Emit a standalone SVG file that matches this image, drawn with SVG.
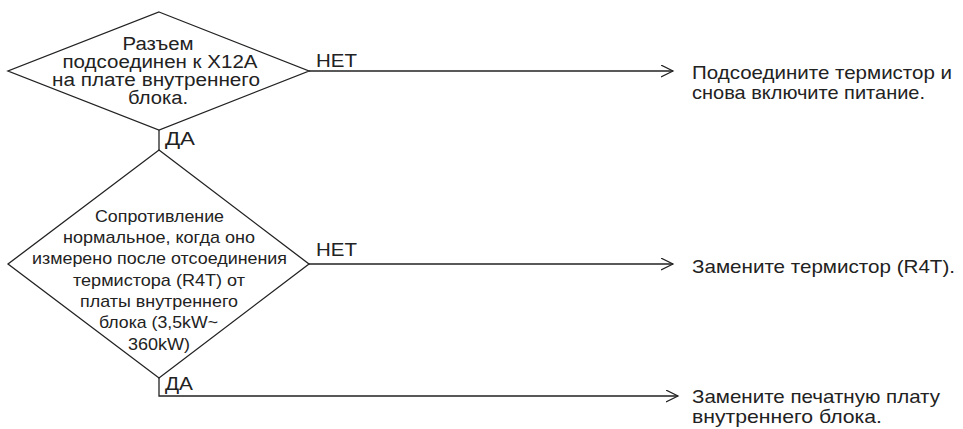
<svg xmlns="http://www.w3.org/2000/svg" width="963" height="429" viewBox="0 0 963 429">
<defs>
<marker id="arr" markerWidth="14" markerHeight="14" refX="12" refY="6" orient="auto" markerUnits="userSpaceOnUse">
<path d="M0,0 L12,6 L0,12" fill="none" stroke="#222" stroke-width="1.2"/>
</marker>
<style>
.shape{fill:#fff;stroke:#222;stroke-width:1.3}
.line{fill:none;stroke:#222;stroke-width:1.3}
text{font-family:"Liberation Sans",Arial,sans-serif;fill:#222}
.d1{font-size:18px;text-anchor:middle}
.d2{font-size:17px;text-anchor:middle}
.lbl{font-size:19px}
.res{font-size:19px}
</style>
</defs>
<rect width="963" height="429" fill="#fff"/>
<g id="connectors">
<line class="line" x1="309" y1="71" x2="673" y2="71" marker-end="url(#arr)"/>
<line class="line" x1="159" y1="130" x2="159" y2="150"/>
<line class="line" x1="309" y1="264" x2="673" y2="264" marker-end="url(#arr)"/>
<polyline class="line" points="159,378 159,396 678,396" marker-end="url(#arr)"/>
<text class="lbl" x="316" y="67" textLength="41" lengthAdjust="spacingAndGlyphs">НЕТ</text>
<text class="lbl" x="165" y="145" textLength="30" lengthAdjust="spacingAndGlyphs">ДА</text>
<text class="lbl" x="316" y="256" textLength="41" lengthAdjust="spacingAndGlyphs">НЕТ</text>
<text class="lbl" x="165" y="390" textLength="28" lengthAdjust="spacingAndGlyphs">ДА</text>
</g>
<g id="decision1">
<polygon class="shape" points="159,12 309,71 159,130 8,71"/>
<text class="d1" x="158" y="50" textLength="71" lengthAdjust="spacingAndGlyphs">Разъем</text>
<text class="d1" x="160" y="68" textLength="195" lengthAdjust="spacingAndGlyphs">подсоединен к X12A</text>
<text class="d1" x="156" y="86" textLength="208" lengthAdjust="spacingAndGlyphs">на плате внутреннего</text>
<text class="d1" x="158" y="104" textLength="60" lengthAdjust="spacingAndGlyphs">блока.</text>
</g>
<g id="decision2">
<polygon class="shape" points="159,150 309,264 159,378 8,264"/>
<text class="d2" x="159.5" y="222" textLength="129" lengthAdjust="spacingAndGlyphs">Сопротивление</text>
<text class="d2" x="159" y="243" textLength="192" lengthAdjust="spacingAndGlyphs">нормальное, когда оно</text>
<text class="d2" x="159.5" y="264" textLength="255" lengthAdjust="spacingAndGlyphs">измерено после отсоединения</text>
<text class="d2" x="159" y="286" textLength="172" lengthAdjust="spacingAndGlyphs">термистора (R4T) от</text>
<text class="d2" x="159" y="307" textLength="158" lengthAdjust="spacingAndGlyphs">платы внутреннего</text>
<text class="d2" x="158.5" y="328" textLength="119" lengthAdjust="spacingAndGlyphs">блока (3,5kW~</text>
<text class="d2" x="159" y="350" textLength="62" lengthAdjust="spacingAndGlyphs">360kW)</text>
</g>
<g id="result1">
<text class="res" x="692" y="79" textLength="260" lengthAdjust="spacingAndGlyphs">Подсоедините термистор и</text>
<text class="res" x="692" y="99" textLength="233" lengthAdjust="spacingAndGlyphs">снова включите питание.</text>
</g>
<g id="result2">
<text class="res" x="692" y="273" textLength="263" lengthAdjust="spacingAndGlyphs">Замените термистор (R4T).</text>
</g>
<g id="result3">
<text class="res" x="692" y="403" textLength="248" lengthAdjust="spacingAndGlyphs">Замените печатную плату</text>
<text class="res" x="692" y="423" textLength="190" lengthAdjust="spacingAndGlyphs">внутреннего блока.</text>
</g>
</svg>
